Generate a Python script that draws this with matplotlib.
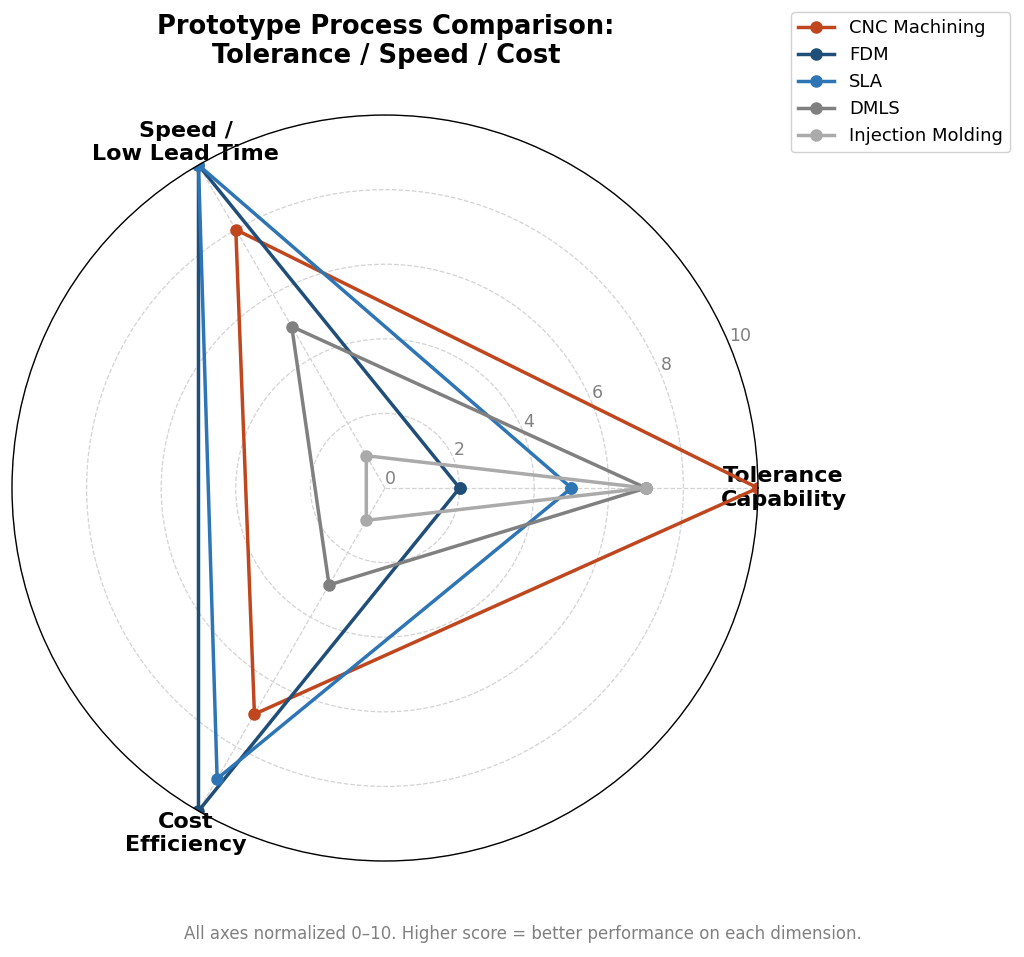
import numpy as np
import matplotlib
matplotlib.use("Agg")
import matplotlib.pyplot as plt

# axes and scores (0-10, higher = better)
dimensions = ["Tolerance\nCapability", "Speed /\nLow Lead Time", "Cost\nEfficiency"]
processes = ["CNC Machining", "FDM", "SLA", "DMLS", "Injection Molding"]
cnc = [10, 8, 7]
fdm = [2, 10, 10]
sla = [5, 10, 9]
dmls = [7, 5, 3]
injection = [7, 1, 1]
colors = ["#c0461e", "#1f4e79", "#2e75b6", "#808080", "#aaaaaa"]

scores = [cnc, fdm, sla, dmls, injection]

angles = np.linspace(0, 2 * np.pi, len(dimensions), endpoint=False).tolist()
angles_closed = angles + angles[:1]

fig = plt.figure(figsize=(10.24, 9.57), dpi=100)
ax = fig.add_axes([0.0117, 0.1003, 0.7285, 0.7795], polar=True)

for name, vals, col in zip(processes, scores, colors):
    v = vals + vals[:1]
    ax.plot(angles_closed, v, color=col, linewidth=2.5, marker="o", markersize=8, label=name)

ax.set_ylim(0, 10)
ax.set_yticks([0, 2, 4, 6, 8, 10])
ax.set_yticklabels(["0", "2", "4", "6", "8", "10"], color="gray", fontsize=12.5)
ax.set_rlabel_position(22.5)
ax.set_xticks(angles)
ax.set_xticklabels(dimensions, fontsize=16, fontweight="bold")
ax.tick_params(axis="x", pad=8)
ax.grid(color="lightgray", linestyle="--", linewidth=0.9)
ax.spines["polar"].set_color("black")
ax.spines["polar"].set_linewidth(1.0)

fig.text(0.377, 0.985, "Prototype Process Comparison:\nTolerance / Speed / Cost",
         ha="center", va="top", fontsize=18.5, fontweight="bold", linespacing=1.15)

fig.legend(loc="upper right", bbox_to_anchor=(0.995, 0.997), fontsize=13, framealpha=0.9)

fig.text(0.511, 0.024, "All axes normalized 0\u201310. Higher score = better performance on each dimension.",
         ha="center", va="center", fontsize=12, color="gray")

fig.savefig("out.png", dpi=100)
